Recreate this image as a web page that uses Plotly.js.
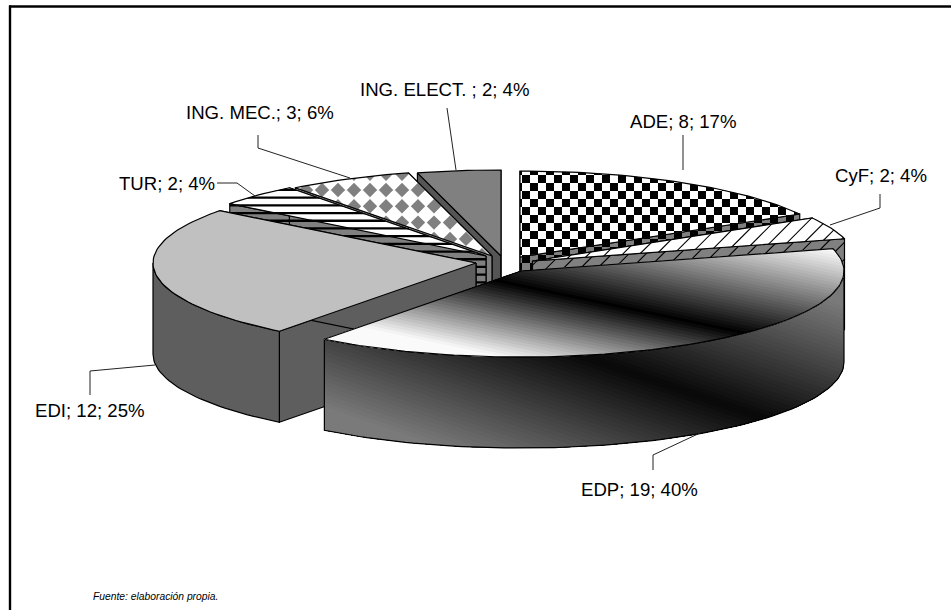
<!DOCTYPE html>
<html><head><meta charset="utf-8">
<script src="https://cdn.plot.ly/plotly-3.0.1.min.js"></script>
<style>html,body{margin:0;padding:0;background:#fff}#c{width:951px;height:610px}</style>
</head><body><div id="c"></div>
<script>
// Data
const categories = ['ADE','CyF','EDP','EDI','TUR','ING. MEC.','ING. ELECT. '];
const values = [8,2,19,12,2,3,2];
// Geometry (exploded centre of every slice, back-to-front paint order)
const centerX = [520,532.5,521,476,486,492,501];
const centerY = [257,261,271,263,256,256,256];
const paintOrder = [6,5,4,3,0,1,2];
const labelX = [628,833,579,33,117,184,358];
const labelY = [121,175,489,410,183,112,89];
const leaderX = [[683,683],[880,880,830],[653,653,700],[90,90,155],[217,237,255],[258,258,350],[447,456]];
const leaderY = [[135,170],[194,208,225],[470,455,433],[395,371,365],[183,183,196],[135,148,178],[108,170]];
const RX=323, RY=86, DEPTH=91;

const total = values.reduce((a,b)=>a+b,0);
const traces=[];
const rad=d=>d*Math.PI/180;
const pt=(c,t)=>[centerX[c]+RX*Math.sin(rad(t)),centerY[c]-RY*Math.cos(rad(t))];
function arc(c,a,b){const n=Math.max(2,Math.ceil((b-a)/1.5));const o=[];for(let i=0;i<=n;i++)o.push(pt(c,a+(b-a)*i/n));return o;}
const down=p=>[p[0],p[1]+DEPTH];
function poly(list,fill,lw){
  const x=[],y=[];
  list.forEach(p=>{p.forEach(q=>{x.push(q[0]);y.push(q[1])});x.push(p[0][0]);y.push(p[0][1]);x.push(null);y.push(null)});
  traces.push({type:'scatter',mode:'lines',x,y,fill:fill?'toself':'none',fillcolor:fill||'rgba(0,0,0,0)',
    line:{color:lw?'#000':'rgba(0,0,0,0)',width:lw||0},hoverinfo:'skip',showlegend:false});
}
function clip(p,nx,ny,d){ // keep n.p >= d
  const o=[];
  for(let i=0;i<p.length;i++){
    const a=p[i],b=p[(i+1)%p.length];
    const da=nx*a[0]+ny*a[1]-d, db=nx*b[0]+ny*b[1]-d;
    if(da>=0)o.push(a);
    if((da>=0)!==(db>=0)){const s=da/(da-db);o.push([a[0]+(b[0]-a[0])*s,a[1]+(b[1]-a[1])*s]);}
  }
  return o;
}
function bbox(p){const xs=p.map(q=>q[0]),ys=p.map(q=>q[1]);return [Math.min(...xs),Math.max(...xs),Math.min(...ys),Math.max(...ys)];}
function clipConvex(p,cell){
  const cx=cell.reduce((s,q)=>s+q[0],0)/cell.length, cy=cell.reduce((s,q)=>s+q[1],0)/cell.length;
  let r=p;
  for(let i=0;i<cell.length&&r.length;i++){
    const a=cell[i],b=cell[(i+1)%cell.length];
    let nx=-(b[1]-a[1]),ny=b[0]-a[0];let d=nx*a[0]+ny*a[1];
    if(nx*cx+ny*cy<d){nx=-nx;ny=-ny;d=-d;}
    r=clip(r,nx,ny,d);
  }
  return r;
}
function checker(p,x0,y0,s){const [a,b,c,d]=bbox(p),o=[];
  for(let i=Math.floor((a-x0)/s);i*s+x0<b;i++)for(let j=Math.floor((c-y0)/s);j*s+y0<d;j++){
    if(Math.abs(i+j)%2)continue;
    const X=x0+i*s,Y=y0+j*s;const r=clipConvex(p,[[X,Y],[X+s,Y],[X+s,Y+s],[X,Y+s]]);if(r.length>2)o.push(r);}
  return o;}
function diamonds(p,x0,y0,perX,perY,h){const [a,b,c,d]=bbox(p),o=[];
  for(let j=Math.floor((c-y0)/perY)-1;j*perY+y0<d+h;j++){
    for(let i=Math.floor((a-x0)/perX)-1;i*perX+x0<b+h;i++){
      const X=x0+i*perX,Y=y0+j*perY;
      const r=clipConvex(p,[[X-h,Y],[X,Y-h],[X+h,Y],[X,Y+h]]);if(r.length>2)o.push(r);}}
  return o;}
function hstripes(p,y0,per,th){const [a,b,c,d]=bbox(p),o=[];
  for(let j=Math.floor((c-y0)/per)-1;j*per+y0<d;j++){
    const Y=y0+j*per;const r=clipConvex(p,[[a-2,Y],[b+2,Y],[b+2,Y+th],[a-2,Y+th]]);if(r.length>2)o.push(r);}
  return o;}
function dstripes(p,x0,per,th){const [a,b,c,d]=bbox(p),o=[];const H=d-c;
  for(let k=Math.floor((a-H-x0)/per)-1;k*per+x0<b+per;k++){
    const X=x0+k*per;
    const r=clipConvex(p,[[X,d],[X+th,d],[X+th+H,c],[X+H,c]]);if(r.length>2)o.push(r);}
  return o;}
function gradient(p,nx,ny,px,py,tA,tB,step,shade){
  for(let t=tA;t<tB;t+=step){
    const r=clip(p,nx,ny,nx*px+ny*py+t);
    if(r.length>2){const g=Math.round(shade(t+step/2));poly([r],`rgb(${g},${g},${g})`,0);}
  }
}

// slice angles from the values (clockwise from 12 o'clock)
const start=[],end=[];let acc=0;
values.forEach((v,i)=>{start[i]=acc;acc+=v/total*360;end[i]=acc;});
const wedge=c=>[[centerX[c],centerY[c]],...arc(c,start[c],end[c])];
function cutWall(c,t){const C=[centerX[c],centerY[c]],P=pt(c,t);return [C,P,down(P),down(C)];}
function outerWall(c){const a=Math.max(start[c],90),b=Math.min(end[c],270);if(b<=a)return null;
  const A=arc(c,a,b);return [...A,...A.slice().reverse().map(down)];}

const styles={
 0:{top:'#ffffff',wall:'#808080',deco:(p)=>checker(p,522,175,8),decoCol:'#000'},
 1:{top:'#ffffff',wall:'#808080',deco:(p)=>dstripes(p,530,17,1.6),decoCol:'#000'},
 3:{top:'#c0c0c0',wall:'#5e5e5e'},
 4:{top:'#ffffff',wall:'#808080',deco:(p)=>hstripes(p,196.5,7.7,2.3),decoCol:'#000'},
 5:{top:'#ffffff',wall:'#808080',deco:(p)=>diamonds(p,322,190,16,16.3,7.2),decoCol:'#808080'},
 6:{top:'#808080',wall:'#555555'}
};
paintOrder.forEach(c=>{
  if(categories[c]==='EDP'){
    const w=outerWall(c);
    gradient(w,-.326,.945,580,355,-200,180,4,t=>Math.min(122,8+.85*Math.abs(t)));
    poly([w],null,1.2);
    const top=wedge(c);
    gradient(top,-.207,.978,492,280,-125,125,3,t=>Math.min(250,t>0?3.4*t:-2.5*t));
    poly([top],null,1.2);
    return;
  }
  const s=styles[c];
  [start[c],end[c]].forEach(t=>{
    const w=cutWall(c,t);poly([w],s.wall,0);
    if(s.deco){const d=s.deco(w);if(d.length)poly(d,s.decoCol,0);}
    poly([w],null,1.2);
  });
  const ow=outerWall(c);
  if(ow){poly([ow],s.wall,1.2);}
  const top=wedge(c);
  poly([top],s.top,0);
  if(s.deco){const d=s.deco(top);if(d.length)poly(d,s.decoCol,0);}
  poly([top],null,1.2);
});

// leader lines
leaderX.forEach((lx,i)=>traces.push({type:'scatter',mode:'lines',x:lx,y:leaderY[i],line:{color:'#222',width:1},hoverinfo:'skip',showlegend:false}));

const annotations=categories.map((n,i)=>({xref:'x',yref:'y',x:labelX[i],y:labelY[i],xanchor:'left',yanchor:'middle',showarrow:false,
  text:`${n}; ${values[i]}; ${Math.round(values[i]/total*100)}%`,font:{family:'Liberation Sans, Arial, sans-serif',size:18.6,color:'#000'}}));
annotations.push({xref:'x',yref:'y',x:91,y:596,xanchor:'left',yanchor:'middle',showarrow:false,
  text:'<i>Fuente: elaboración propia.</i>',font:{family:'Liberation Sans, Arial, sans-serif',size:10.3,color:'#000'}});

Plotly.newPlot('c',traces,{
  width:951,height:610,margin:{l:0,r:0,t:0,b:0},paper_bgcolor:'#fff',plot_bgcolor:'#fff',showlegend:false,hovermode:false,
  xaxis:{range:[0,951],visible:false,fixedrange:true},
  yaxis:{range:[610,0],visible:false,fixedrange:true},
  shapes:[{type:'line',xref:'x',yref:'y',x0:9,x1:951,y0:6.5,y1:6.5,line:{color:'#000',width:2.4}},
          {type:'line',xref:'x',yref:'y',x0:10,x1:10,y0:5.5,y1:610,line:{color:'#000',width:2.4}}],
  annotations
},{staticPlot:true,displayModeBar:false});
</script></body></html>
